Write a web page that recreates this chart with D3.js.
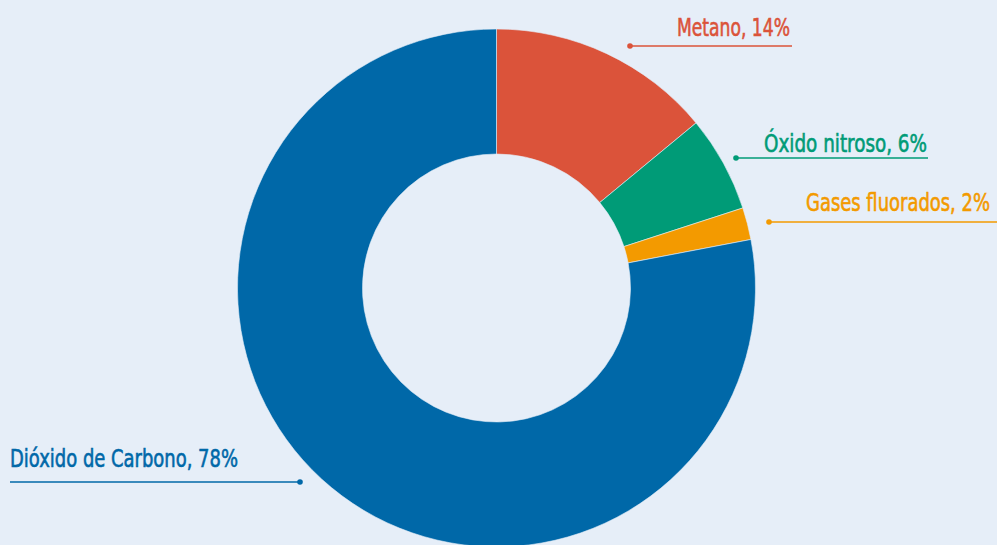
<!DOCTYPE html>
<html>
<head>
<meta charset="utf-8">
<script src="https://cdn.jsdelivr.net/npm/d3@7"></script>
<style>
  html, body { margin: 0; padding: 0; background: #e6eef8; }
  svg { display: block; }
</style>
</head>
<body>
<div id="chart"></div>
<script>
// data
const gases = ['Metano', 'Óxido nitroso', 'Gases fluorados', 'Dióxido de Carbono'];
const shares = [14, 6, 2, 78];
const colors = ['#db533a', '#009b77', '#f39a00', '#0068a8'];

// label layout: text left x, baseline y, leader line from dot x to end x, text width
const labelLayout = [
  { tx: 677, ty: 36,  ly: 46,  x1: 630, x2: 792, w: 113 },
  { tx: 764, ty: 152, ly: 158, x1: 736, x2: 928, w: 163 },
  { tx: 806, ty: 211, ly: 222, x1: 769, x2: 997, w: 184 },
  { tx: 10,  ty: 467, ly: 482, x1: 300, x2: 10,  w: 228 }
];

const width = 997, height = 545;
const cx = 496.5, cy = 288;
const outerR = 259, innerR = 134;

const svg = d3.select('#chart').append('svg')
  .attr('width', width)
  .attr('height', height);

svg.append('rect')
  .attr('width', width)
  .attr('height', height)
  .attr('fill', '#e6eef8');

const data = gases.map((g, i) => ({ name: g, value: shares[i], color: colors[i] }));

const pie = d3.pie()
  .value(d => d.value)
  .sort(null);

const arc = d3.arc()
  .innerRadius(innerR)
  .outerRadius(outerR);

const g = svg.append('g')
  .attr('transform', `translate(${cx},${cy})`);

g.selectAll('path')
  .data(pie(data))
  .join('path')
  .attr('d', arc)
  .attr('fill', d => d.data.color)
  .attr('stroke', '#e6eef8')
  .attr('stroke-width', 0.6);

// Leader lines + labels
const labels = svg.append('g');

data.forEach((d, i) => {
  const L = labelLayout[i];
  labels.append('line')
    .attr('x1', L.x1).attr('x2', L.x2)
    .attr('y1', L.ly).attr('y2', L.ly)
    .attr('stroke', d.color)
    .attr('stroke-width', 1.5);

  labels.append('circle')
    .attr('cx', L.x1)
    .attr('cy', L.ly)
    .attr('r', 2.8)
    .attr('fill', d.color);

  // slight stroke to get the semi-bold look of the original
  labels.append('text')
    .attr('x', L.tx)
    .attr('y', L.ty)
    .attr('fill', d.color)
    .attr('stroke', d.color)
    .attr('stroke-width', 0.6)
    .attr('textLength', L.w)
    .attr('lengthAdjust', 'spacingAndGlyphs')
    .style('font-family', "'Liberation Sans Narrow', 'DejaVu Sans Condensed', 'Roboto', sans-serif")
    .style('font-size', '25px')
    .text(`${d.name}, ${d.value}%`);
});
</script>
</body>
</html>
